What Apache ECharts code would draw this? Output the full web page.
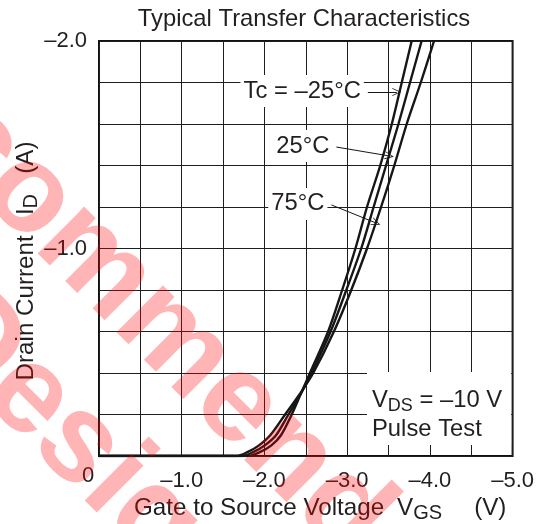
<!DOCTYPE html>
<html>
<head>
<meta charset="utf-8">
<script src="https://cdn.jsdelivr.net/npm/echarts@6/dist/echarts.min.js"></script>
<style>
  html, body { margin: 0; padding: 0; background: #fff; }
  #chart { width: 537px; height: 524px; }
</style>
</head>
<body>
<div id="chart"></div>
<script>
// Drain current I_D (A) sample levels shared by the three temperature curves
const drainCurrent = [0, 0, -0.02, -0.05, -0.1, -0.2, -0.3, -0.4, -0.6, -0.8, -1.0, -1.2, -1.4, -1.6, -1.8, -2.0];
// Gate-to-source voltage V_GS (V) at each current level, per case temperature
const vgsMinus25C = [0, -1.80, -1.95, -2.08, -2.20, -2.33, -2.44, -2.55, -2.77, -2.94, -3.10, -3.24, -3.40, -3.54, -3.66, -3.78];
const vgs25C      = [0, -1.73, -1.87, -2.00, -2.14, -2.29, -2.44, -2.57, -2.80, -2.99, -3.17, -3.32, -3.47, -3.62, -3.76, -3.90];
const vgs75C      = [0, -1.66, -1.80, -1.93, -2.07, -2.25, -2.43, -2.59, -2.84, -3.05, -3.24, -3.41, -3.57, -3.72, -3.89, -4.05];

const seriesNames = ['Tc = –25°C', '25°C', '75°C'];
// Callout arrows: tail and head in (V_GS, I_D)
const arrowTail = [[-3.25, -1.754], [-2.87, -1.489], [-2.81, -1.21]];
const arrowHead = [[-3.60, -1.754], [-3.51, -1.446], [-3.35, -1.123]];

// Labelled ticks
const xTickLabels = [-1, -2, -3, -4, -5];
const yTickLabels = [-1, -2];

const FONT = '"Liberation Sans", Arial, Helvetica, sans-serif';
const INK = '#231f20';

const chart = echarts.init(document.getElementById('chart'), null, { renderer: 'canvas' });

function pairs(xs, ys) { return xs.map((x, i) => [x, ys[i]]); }
function fmt(v) { return '–' + Math.abs(v).toFixed(1); }

const chevron = 'path://M0,10L5,0L10,10L9,10L5,2.2L1,10Z';

const curves = [vgsMinus25C, vgs25C, vgs75C].map((vgs, i) => ({
  name: seriesNames[i],
  type: 'line',
  data: pairs(vgs, drainCurrent),
  showSymbol: false,
  smooth: 0.3,
  clip: true,
  lineStyle: { color: '#161616', width: 2.4 },
  z: 3,
  markLine: {
    silent: true,
    animation: false,
    symbol: ['none', chevron],
    symbolSize: [8, 9],
    lineStyle: { color: '#161616', width: 1, type: 'solid' },
    label: { show: false },
    data: [[{ coord: arrowTail[i] }, { coord: arrowHead[i] }]]
  }
}));

chart.setOption({
  animation: false,
  backgroundColor: '#fff',
  grid: {
    left: 99, top: 41, width: 415, height: 415,
    show: true, borderColor: '#111', borderWidth: 2, backgroundColor: 'transparent'
  },
  xAxis: {
    type: 'value', min: -5, max: 0, interval: 0.5, inverse: true,
    axisLine: { show: false },
    axisTick: { show: false },
    splitLine: { show: true, lineStyle: { color: '#1e1e1e', width: 1 } },
    axisLabel: {
      margin: 14, color: INK, fontFamily: FONT, fontSize: 22,
      formatter: v => (xTickLabels.indexOf(Math.round(v * 10) / 10) >= 0 ? fmt(v) : '')
    }
  },
  yAxis: {
    type: 'value', min: -2, max: 0, interval: 0.2, inverse: true,
    axisLine: { show: false },
    axisTick: { show: false },
    splitLine: { show: true, lineStyle: { color: '#1e1e1e', width: 1 } },
    axisLabel: {
      margin: 12, color: INK, fontFamily: FONT, fontSize: 22,
      formatter: v => (yTickLabels.indexOf(Math.round(v * 10) / 10) >= 0 ? fmt(v) : '')
    }
  },
  series: curves
});

// Text overlays placed from the axes' own coordinate conversion
const px = c => chart.convertToPixel({ gridIndex: 0 }, c);
const origin = px([0, 0]);
const gridRight = px([-5, 0])[0];
const elements = [];

// Title
elements.push({
  type: 'text', x: 304, y: 19, z: 10,
  style: { text: 'Typical Transfer Characteristics', font: '23.8px ' + FONT, fill: INK, align: 'center', verticalAlign: 'middle' }
});

// Origin label
elements.push({
  type: 'text', x: origin[0] - 11, y: origin[1] + 20, z: 10,
  style: { text: '0', font: '22px ' + FONT, fill: INK, align: 'center', verticalAlign: 'middle' }
});

// Axis names
const subRich = {
  v: { font: '24.2px ' + FONT, fill: INK },
  s: { font: '20px ' + FONT, fill: INK, padding: [11, 0, 0, 0] },
  gapA: { font: '24.2px ' + FONT, width: 13 },
  gapB: { font: '24.2px ' + FONT, width: 32 }
};
elements.push({
  type: 'text', x: 134, y: 508, z: 10,
  style: {
    text: '{v|Gate to Source Voltage}{gapA| }{v|V}{s|GS}{gapB| }{v|(V)}',
    font: '24.2px ' + FONT, fill: INK, align: 'left', verticalAlign: 'middle', rich: subRich
  }
});
elements.push({
  type: 'text', x: 26, y: 261, rotation: Math.PI / 2, z: 10,
  style: {
    text: 'Drain Current   {v|I}{s|D}   {v|(A)}',
    font: '24.2px ' + FONT, fill: INK, align: 'center', verticalAlign: 'middle', rich: subRich
  }
});

// Curve callouts
arrowTail.forEach((c, i) => {
  const p = px(c);
  elements.push({
    type: 'text', x: p[0] - 4, y: p[1] - 1, z: 1,
    style: {
      text: seriesNames[i], font: '23.8px ' + FONT, fill: INK,
      align: 'right', verticalAlign: 'middle',
      backgroundColor: '#fff', padding: [4, 3, 4, 3]
    }
  });
});

// Test-condition box
const boxTop = px([0, -0.405])[1];
elements.push({
  type: 'rect', z: 1,
  shape: { x: 367, y: boxTop, width: gridRight - 367 - 1.5, height: origin[1] - boxTop - 11 },
  style: { fill: '#fff' }
});
elements.push({
  type: 'text', x: 372, y: 386, z: 2,
  style: {
    text: '{v|V}{s|DS}{v| = –10 V}\n{v|Pulse Test}',
    font: '23.8px ' + FONT, fill: INK, align: 'left', verticalAlign: 'top',
    rich: {
      v: { font: '23.8px ' + FONT, fill: INK, lineHeight: 29 },
      s: { font: '18px ' + FONT, fill: INK, lineHeight: 29, padding: [12, 0, 0, 0] }
    }
  }
});

// Status watermark, two diagonal lines
const stampStyle = { font: 'bold 125px ' + FONT, fill: 'rgba(255,0,0,0.29)', align: 'left', verticalAlign: 'middle' };
elements.push({
  type: 'text', x: -332, y: -165, rotation: -Math.PI / 4, z: 100,
  style: Object.assign({ text: 'Not Recommended' }, stampStyle)
});
elements.push({
  type: 'text', x: -408, y: -41, rotation: -Math.PI / 4, z: 100,
  style: Object.assign({ text: 'for New Design' }, stampStyle)
});

chart.setOption({ graphic: { elements } });
</script>
</body>
</html>
